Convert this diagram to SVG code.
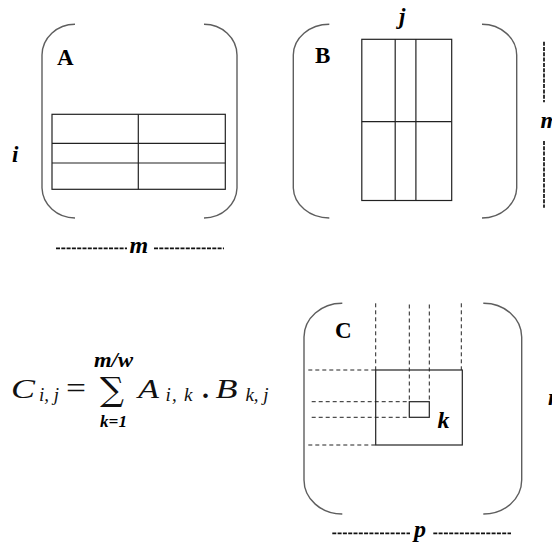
<svg xmlns="http://www.w3.org/2000/svg" width="552" height="542" viewBox="0 0 552 542">
<style>
.br{fill:none;stroke:#5e5e5e;stroke-width:1.4}
.grid{fill:none;stroke:#222;stroke-width:1.2}
.dsh{fill:none;stroke:#222;stroke-width:1;stroke-dasharray:4,3}
.dim{fill:none;stroke:#111;stroke-width:1.7;stroke-dasharray:4,1.3}
.lbl{font-family:"Liberation Serif",serif;font-weight:bold;font-size:23px;fill:#000}
.var{font-family:"Liberation Serif",serif;font-weight:bold;font-style:italic;fill:#000}
.eq{font-family:"Liberation Serif",serif;font-style:italic;fill:#111}
</style>
<rect width="552" height="542" fill="#fff"/>
<g id="matrixA">
<path class="br" d="M75,24.3 A33,31 0 0 0 42,55 L42,188 A33,31 0 0 0 75,218"/>
<path class="br" d="M204,24.3 A33,31 0 0 1 237,55 L237,188 A33,31 0 0 1 204,218"/>
<text class="lbl" x="57" y="65">A</text>
<rect class="grid" x="52" y="114.3" width="173.3" height="75"/>
<line class="grid" x1="52" y1="143.3" x2="225.3" y2="143.3"/>
<line class="grid" x1="52" y1="163" x2="225.3" y2="163"/>
<line class="grid" x1="138.3" y1="114.3" x2="138.3" y2="189.3"/>
<text class="var" x="12" y="162" font-size="23">i</text>
<line class="dim" x1="56" y1="248.3" x2="127" y2="248.3"/>
<text class="var" x="129.5" y="253" font-size="24">m</text>
<line class="dim" x1="154" y1="248.3" x2="224" y2="248.3"/>
</g>
<g id="matrixB">
<path class="br" d="M329.3,24.3 A36,31 0 0 0 293.3,55 L293.3,188 A36,31 0 0 0 329.3,218"/>
<path class="br" d="M482,24.3 A35,31 0 0 1 516.7,55 L516.7,188 A35,31 0 0 1 482,218"/>
<text class="lbl" x="315" y="63.3">B</text>
<text class="var" x="399" y="24" font-size="23">j</text>
<rect class="grid" x="361.8" y="39.3" width="89.9" height="161.2"/>
<line class="grid" x1="361.8" y1="121.7" x2="451.7" y2="121.7"/>
<line class="grid" x1="395.2" y1="39.3" x2="395.2" y2="200.5"/>
<line class="grid" x1="415.9" y1="39.3" x2="415.9" y2="200.5"/>
<line class="dim" x1="544" y1="41.7" x2="544" y2="102.3"/>
<text class="var" x="540.5" y="128" font-size="24">m</text>
<line class="dim" x1="544" y1="141" x2="544" y2="207.7"/>
</g>
<g id="formula">
<text class="eq" x="11" y="397.7" font-size="28" textLength="24" lengthAdjust="spacingAndGlyphs">C</text>
<text class="eq" x="39" y="401" font-size="19" textLength="20" lengthAdjust="spacing">i, j</text>
<text x="66" y="398" font-family="'Liberation Serif',serif" font-size="30" fill="#111" textLength="20" lengthAdjust="spacingAndGlyphs">=</text>
<text class="var" x="94" y="366.7" font-size="20" textLength="39" lengthAdjust="spacingAndGlyphs">m/w</text>
<text x="100" y="401" font-family="'DejaVu Serif',serif" font-size="33" fill="#111" textLength="24" lengthAdjust="spacingAndGlyphs">∑</text>
<text class="var" x="100" y="426.7" font-size="17" textLength="27" lengthAdjust="spacingAndGlyphs">k=1</text>
<text class="eq" x="138" y="397.7" font-size="28" textLength="21" lengthAdjust="spacingAndGlyphs">A</text>
<text class="eq" x="165.5" y="401" font-size="19" textLength="27" lengthAdjust="spacing">i, k</text>
<text x="202" y="397.7" font-family="'Liberation Serif',serif" font-weight="bold" font-size="28" fill="#111">.</text>
<text class="eq" x="215.5" y="397.7" font-size="28" textLength="22" lengthAdjust="spacingAndGlyphs">B</text>
<text class="eq" x="245.5" y="401" font-size="19" textLength="23" lengthAdjust="spacing">k, j</text>
</g>
<g id="matrixC">
<path class="br" d="M342.3,303.3 A38,34 0 0 0 304,337 L304,480 A38,34 0 0 0 342.3,514"/>
<path class="br" d="M483.3,303.3 A38,34 0 0 1 521.7,337 L521.7,480 A38,34 0 0 1 483.3,514"/>
<text class="lbl" x="335" y="338.3">C</text>
<rect class="grid" x="375.7" y="370" width="86.6" height="75"/>
<rect class="grid" x="409.3" y="401.7" width="20" height="15.6"/>
<text class="var" x="437.5" y="428.3" font-size="24">k</text>
<text class="var" x="414" y="537" font-size="24">p</text>
<line class="dim" x1="332.3" y1="533.3" x2="410" y2="533.3"/>
<line class="dim" x1="433.3" y1="533.3" x2="511" y2="533.3"/>
<text class="var" x="548" y="405" font-size="24">m</text>
</g>
<g id="connectors">
<line class="dsh" x1="375.7" y1="303.3" x2="375.7" y2="370"/>
<line class="dsh" x1="409.3" y1="304.5" x2="409.3" y2="401.7"/>
<line class="dsh" x1="429.3" y1="304.5" x2="429.3" y2="401.7"/>
<line class="dsh" x1="461.3" y1="303.3" x2="461.3" y2="370"/>
<line class="dsh" x1="308.3" y1="370" x2="375.7" y2="370"/>
<line class="dsh" x1="311.7" y1="401.7" x2="409.3" y2="401.7"/>
<line class="dsh" x1="311.7" y1="417.3" x2="409.3" y2="417.3"/>
<line class="dsh" x1="308.3" y1="445" x2="375.7" y2="445"/>
</g>
</svg>
